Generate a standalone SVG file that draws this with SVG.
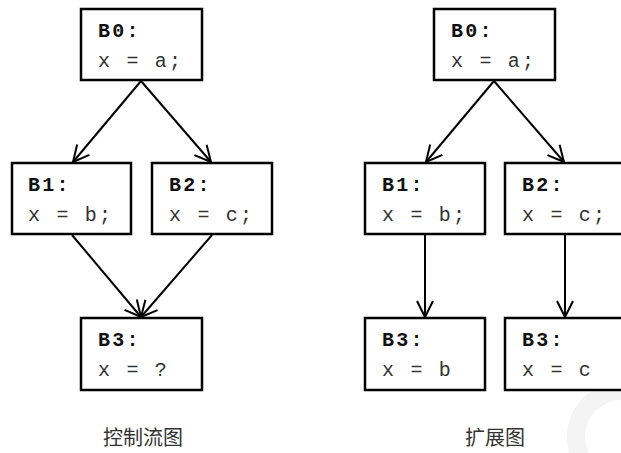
<svg xmlns="http://www.w3.org/2000/svg" width="621" height="453" viewBox="0 0 621 453">
<defs>
<marker id="arr" viewBox="0 0 20 20" refX="18" refY="10" markerWidth="20" markerHeight="20" markerUnits="userSpaceOnUse" orient="auto">
<path d="M2,2 L18,10 L2,18" fill="none" stroke="#000" stroke-width="2"/>
</marker>
<style>
.box{fill:#fff;stroke:#000;stroke-width:2.5}
.t{font-family:"Liberation Mono","Courier New",monospace;font-size:20px;letter-spacing:2.2px;fill:#333}
.b{font-weight:bold;fill:#111}
.edge{stroke:#000;stroke-width:2;fill:none;marker-end:url(#arr)}
.cap{font-family:"Noto Sans CJK SC","Noto Sans CJK TC",sans-serif;font-size:20px;fill:#333;text-anchor:middle}
</style>
</defs>
<rect width="621" height="453" fill="#fff"/>
<circle cx="622" cy="437" r="46" fill="none" stroke="#f4f4f4" stroke-width="18"/>
<g id="connectors">
<line class="edge" x1="141" y1="81" x2="73" y2="162"/>
<line class="edge" x1="141" y1="81" x2="211" y2="162"/>
<line class="edge" x1="72" y1="235" x2="141" y2="317"/>
<line class="edge" x1="212" y1="235" x2="141" y2="317"/>
<line class="edge" x1="494" y1="81" x2="426" y2="162"/>
<line class="edge" x1="494" y1="81" x2="564" y2="162"/>
<line class="edge" x1="425" y1="235" x2="425" y2="317"/>
<line class="edge" x1="565" y1="235" x2="565" y2="317"/>
</g>
<g id="L_B0"><rect class="box" x="81" y="9" width="121" height="71"/><text class="t b" x="98" y="37">B0:</text><text class="t" x="98" y="67">x = a;</text></g>
<g id="L_B1"><rect class="box" x="12" y="163" width="119" height="71"/><text class="t b" x="28" y="191">B1:</text><text class="t" x="28" y="221">x = b;</text></g>
<g id="L_B2"><rect class="box" x="152" y="163" width="120" height="71"/><text class="t b" x="169" y="191">B2:</text><text class="t" x="169" y="221">x = c;</text></g>
<g id="L_B3"><rect class="box" x="81" y="318" width="121" height="72"/><text class="t b" x="98" y="346">B3:</text><text class="t" x="98" y="376">x = ?</text></g>
<g id="R_B0"><rect class="box" x="434" y="9" width="121" height="71"/><text class="t b" x="451" y="37">B0:</text><text class="t" x="451" y="67">x = a;</text></g>
<g id="R_B1"><rect class="box" x="365" y="163" width="120" height="71"/><text class="t b" x="382" y="191">B1:</text><text class="t" x="382" y="221">x = b;</text></g>
<g id="R_B2"><rect class="box" x="505" y="163" width="121" height="71"/><text class="t b" x="522" y="191">B2:</text><text class="t" x="522" y="221">x = c;</text></g>
<g id="R_B3b"><rect class="box" x="365" y="318" width="120" height="72"/><text class="t b" x="382" y="346">B3:</text><text class="t" x="382" y="376">x = b</text></g>
<g id="R_B3c"><rect class="box" x="505" y="318" width="121" height="72"/><text class="t b" x="522" y="346">B3:</text><text class="t" x="522" y="376">x = c</text></g>
<text class="cap" x="143" y="445">控制流图</text>
<text class="cap" x="495" y="445">扩展图</text>
</svg>
